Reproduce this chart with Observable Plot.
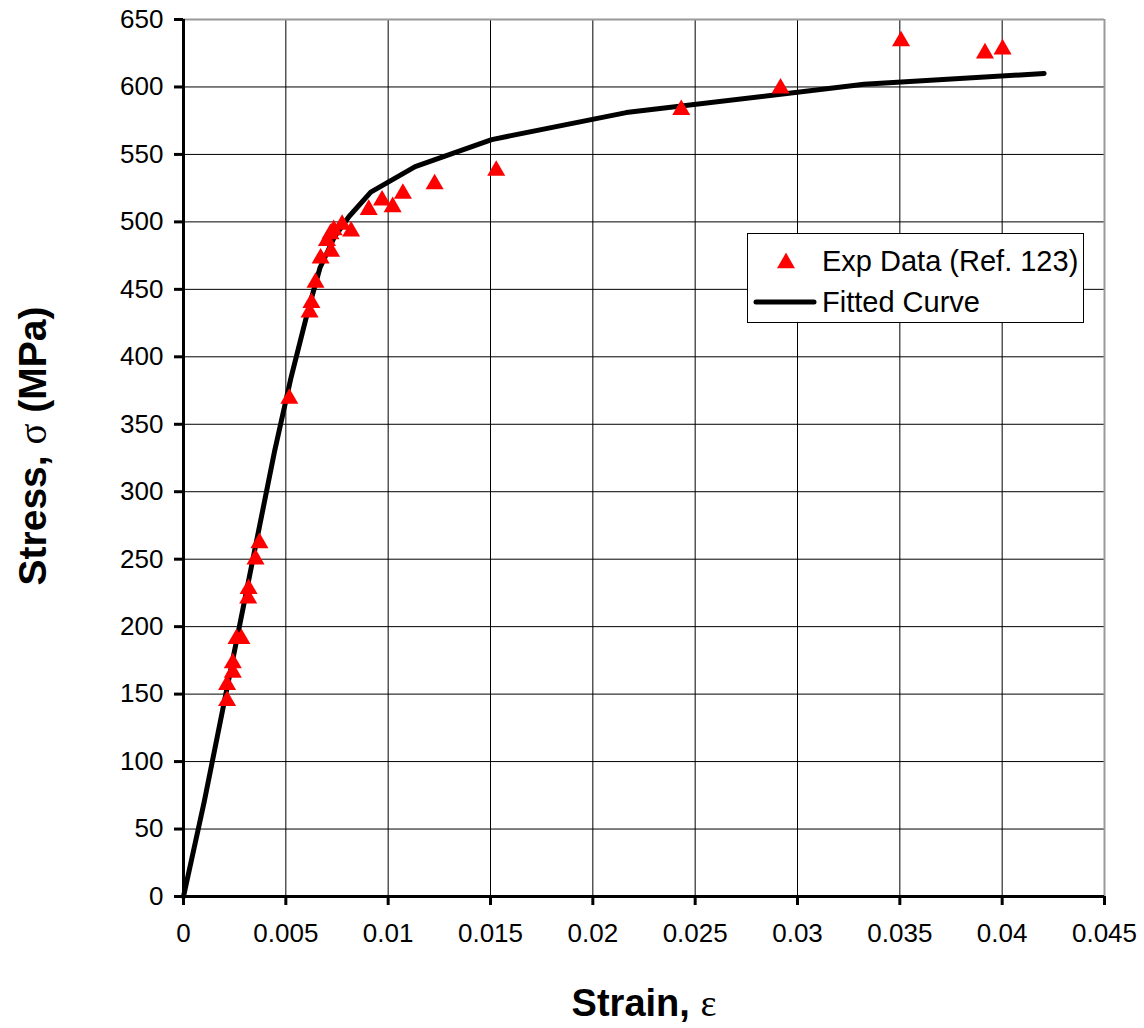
<!DOCTYPE html>
<html><head><meta charset="utf-8">
<script src="https://cdn.jsdelivr.net/npm/d3@7"></script>
<script src="https://cdn.jsdelivr.net/npm/@observablehq/plot@0.6"></script>
<style>
body{margin:0;background:#fff;}
#wrap{position:relative;width:1144px;height:1028px;font-family:"Liberation Sans",Arial,sans-serif;}
#legend{position:absolute;left:747px;top:233px;width:337px;height:90px;border:1.5px solid #000;background:#fff;box-sizing:border-box;font-size:29px;color:#000;}
#legend .row{position:absolute;left:0;height:34px;display:flex;align-items:center;white-space:nowrap;}
#legend svg{display:block;}
</style></head>
<body>
<div id="wrap"></div>
<script>
// Experimental data (Ref. 123)
const expStrain = [0.00213,0.00213,0.00241,0.00241,0.00259,0.00283,0.00316,0.00318,0.00352,0.00371,0.00517,0.00616,0.00625,0.00645,0.0067,0.00721,0.00701,0.00718,0.00734,0.00775,0.00819,0.00905,0.0097,0.01022,0.01072,0.01227,0.01528,0.02432,0.02917,0.03506,0.03916,0.04002];
const expStress = [145,157,166,173,191,191,221,228,250,262,369,433,440,455,473,478,486,491,494,498,493,509,516,511,521,528,538,583,599,634,625,628];
// Fitted curve
const fitStrain = [0,0.00101,0.00445,0.00526,0.00606,0.00667,0.00738,0.00809,0.00915,0.01132,0.01506,0.02163,0.03325,0.04205];
const fitStress = [0,70,330,385,433,466,489,504,522,541,561,581,602,610];
// Ticks
const xTicks = [0,0.005,0.01,0.015,0.02,0.025,0.03,0.035,0.04,0.045];
const yTicks = [0,50,100,150,200,250,300,350,400,450,500,550,600,650];
const seriesNames = ["Exp Data (Ref. 123)","Fitted Curve"];
const xTitle = ["Strain, ","ε"];
const yTitle = ["Stress, ","σ"," (MPa)"];

const exp = expStrain.map((x,i)=>({x, y: expStress[i]}));
const fit = fitStrain.map((x,i)=>({x, y: fitStress[i]}));

const chart = Plot.plot({
  width:1144, height:1028,
  marginLeft:183, marginRight:40, marginTop:19, marginBottom:132,
  style:{fontFamily:'"Liberation Sans", Arial, sans-serif', background:"#fff", color:"#000"},
  x:{domain:[0,0.045]},
  y:{domain:[0,650]},
  marks:[
    Plot.gridX(xTicks,{stroke:"#000",strokeOpacity:1,strokeWidth:1}),
    Plot.gridY(yTicks,{stroke:"#000",strokeOpacity:1,strokeWidth:1}),
    Plot.ruleX([0.045],{stroke:"#999",strokeWidth:2}),
    Plot.ruleY([650],{stroke:"#999",strokeWidth:2}),
    Plot.axisX(xTicks,{tickSize:9,strokeWidth:3,tickPadding:18,fontSize:26,
      tickFormat:d=>String(+d.toFixed(4)),label:xTitle.join(""),labelAnchor:"center",labelOffset:119}),
    Plot.axisY(yTicks,{tickSize:9,strokeWidth:3,tickPadding:11,fontSize:26,
      tickFormat:d=>String(d),label:yTitle.join(""),labelAnchor:"center",labelOffset:165}),
    Plot.ruleX([0],{stroke:"#000",strokeWidth:3}),
    Plot.ruleY([0],{stroke:"#000",strokeWidth:3}),
    Plot.line(fit,{x:"x",y:"y",stroke:"#000",strokeWidth:5,strokeLinejoin:"round",strokeLinecap:"round"}),
    Plot.dot(exp,{x:"x",y:"y",symbol:"triangle",r:6.7,fill:"#ff0000",stroke:"none"})
  ]
});

function setTitle(sel, parts, size, shift){
  const t = chart.querySelector(sel);
  if(!t) return;
  t.textContent = "";
  t.setAttribute("font-size",String(size));
  t.setAttribute("font-weight","bold");
  parts.forEach(p=>{
    const ts = document.createElementNS("http://www.w3.org/2000/svg","tspan");
    ts.textContent = p;
    if(p==="σ"||p==="ε"){ts.setAttribute("font-family",'"Liberation Serif", "Times New Roman", serif');ts.setAttribute("font-weight","normal");}
    t.appendChild(ts);
  });
  if(shift){
    const tr = t.getAttribute("transform");
    if(tr && tr.includes("rotate")) t.setAttribute("transform", tr + ` translate(${shift},0)`);
  }
}
setTitle('g[aria-label="x-axis label"] text', xTitle, 38, 0);
setTitle('g[aria-label="y-axis label"] text', yTitle, 39, 12);

const wrap = document.getElementById("wrap");
wrap.appendChild(chart);

// Legend
const lg = document.createElement("div");
lg.id = "legend";
lg.innerHTML = `
<div class="row" style="top:10px;"><svg width="74" height="34"><path d="${d3.symbol(d3.symbolTriangle, 140)()}" transform="translate(38,19)" fill="#ff0000"/></svg><span>${seriesNames[0]}</span></div>
<div class="row" style="top:51px;"><svg width="74" height="34"><line x1="8" x2="66" y1="17" y2="17" stroke="#000" stroke-width="5" stroke-linecap="round"/></svg><span>${seriesNames[1]}</span></div>`;
wrap.appendChild(lg);
</script>
</body></html>
